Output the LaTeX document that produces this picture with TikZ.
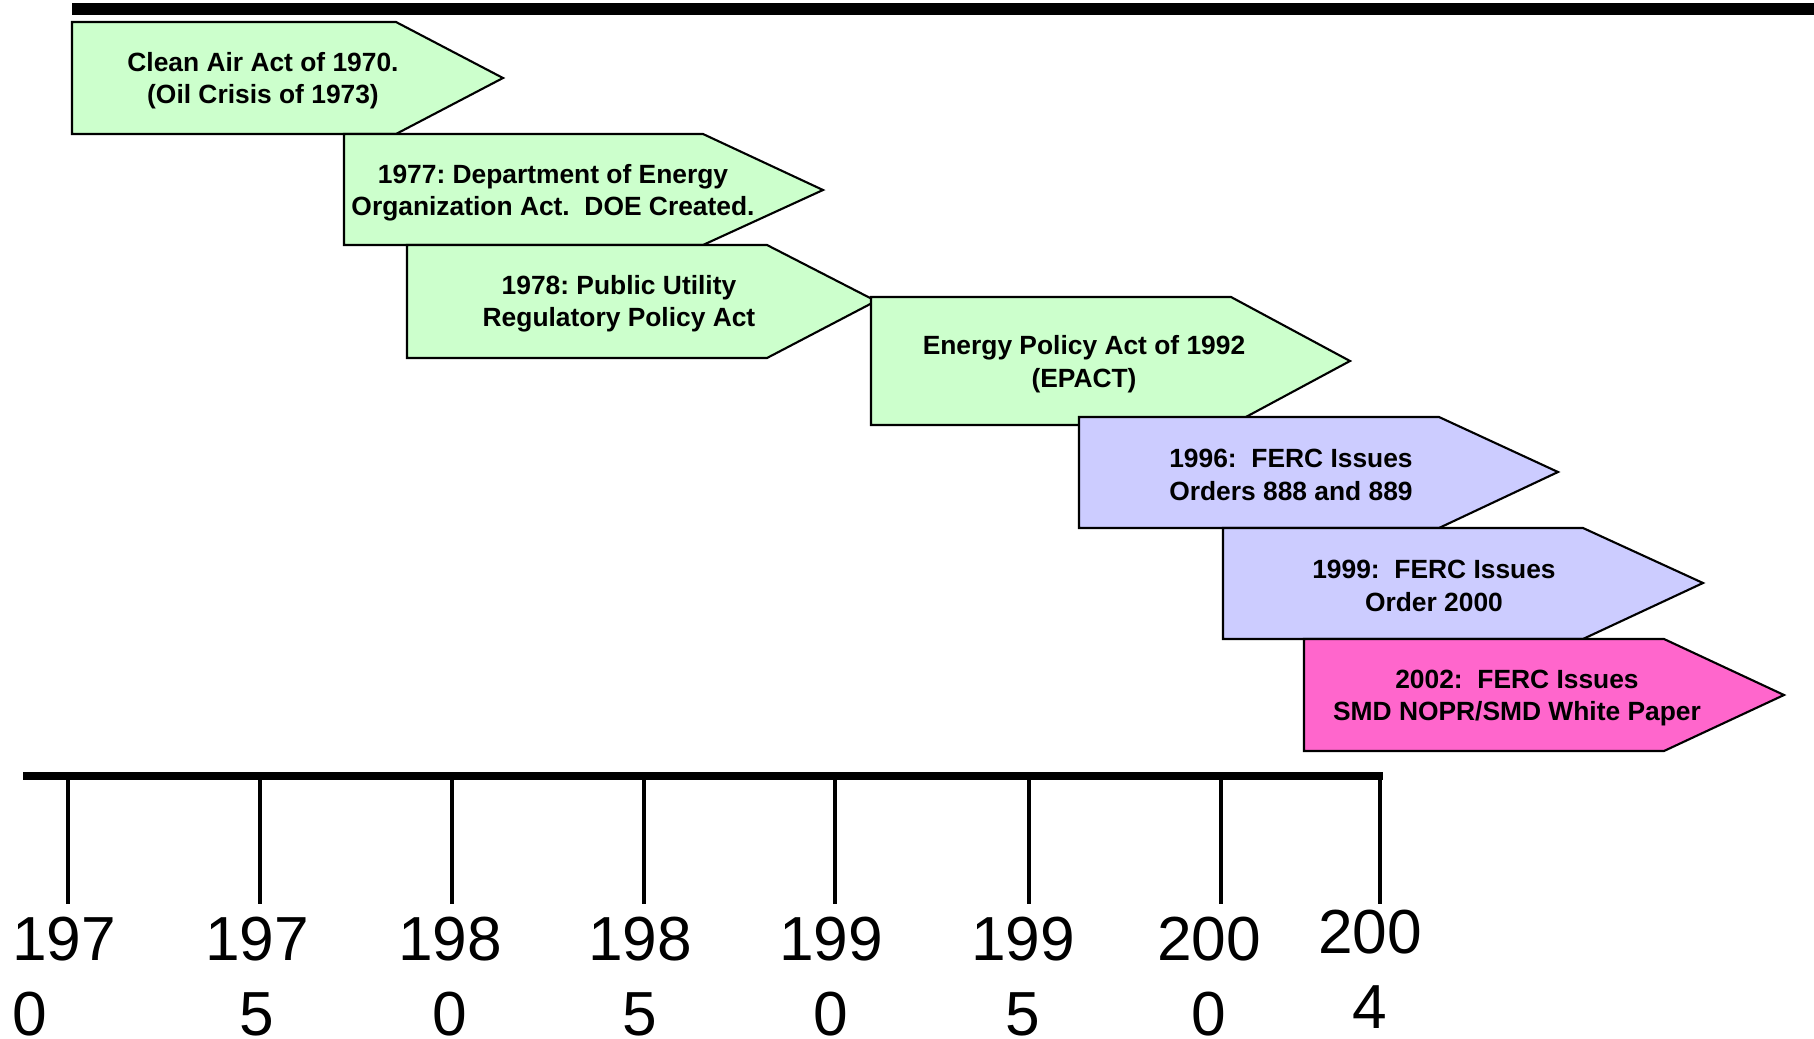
\documentclass[tikz,border=0pt]{standalone}
\usepackage{fontspec}
\setmainfont{Liberation Sans}
\usepackage{tikz}
\usetikzlibrary{positioning}
\definecolor{actgreen}{RGB}{204,255,204}
\definecolor{fercblue}{RGB}{204,204,255}
\definecolor{smdpink}{RGB}{255,102,204}
\frenchspacing

\begin{document}
\begin{tikzpicture}[
  x=0.01cm, y=-0.01cm,
  event/.style={draw=black, line width=0.6pt, line join=miter},
  evtext/.style={font=\fontsize{7.5}{9.2}\selectfont\bfseries, align=center, inner sep=0pt},
  tick/.style={line width=1pt},
  year/.style={font=\fontsize{17.7}{21.3}\selectfont, align=center, inner sep=0pt, anchor=north},
]
  \useasboundingbox (0,0) rectangle (1814,1039);

  % rule along the top
  \draw[line width=3.2pt] (72,9) -- (1814,9);

  % events, oldest first
  \draw[event, fill=actgreen] (72,22) -- (396,22) -- (503,78) -- (396,134) -- (72,134) -- cycle;
  \node[evtext] (cleanair) at (263,81) {Clean Air Act of 1970.\\(Oil Crisis of 1973)};

  \draw[event, fill=actgreen] (344,134) -- (703,134) -- (823,190) -- (703,245) -- (344,245) -- cycle;
  \node[evtext] (doe) at (553,193) {1977: Department of Energy\\Organization Act.\ \ DOE Created.};

  \draw[event, fill=actgreen] (407,245) -- (767,245) -- (876,301) -- (767,358) -- (407,358) -- cycle;
  \node[evtext] (purpa) at (619,304) {1978: Public Utility\\Regulatory Policy Act};

  \draw[event, fill=actgreen] (871,297) -- (1231,297) -- (1350,361) -- (1231,425) -- (871,425) -- cycle;
  \node[evtext] (epact) at (1084,364) {Energy Policy Act of 1992\\(EPACT)};

  \draw[event, fill=fercblue] (1079,417) -- (1439,417) -- (1558,472) -- (1439,528) -- (1079,528) -- cycle;
  \node[evtext] (order888) at (1291,475) {1996:\ \ FERC Issues\\Orders 888 and 889};

  \draw[event, fill=fercblue] (1223,528) -- (1583,528) -- (1703,583) -- (1583,639) -- (1223,639) -- cycle;
  \node[evtext] (order2000) at (1434,586) {1999:\ \ FERC Issues\\Order 2000};

  \draw[event, fill=smdpink] (1304,639) -- (1664,639) -- (1784,695) -- (1664,751) -- (1304,751) -- cycle;
  \node[evtext] (smd) at (1517,698) {2002:\ \ FERC Issues\\SMD NOPR/SMD White Paper};

  % time axis
  \draw[line width=2.3pt] (23,776) -- (1383,776);
  \foreach \x in {68,260,452,644,835,1029,1221,1380}
    \draw[tick] (\x,776) -- (\x,904);

  \node[year, align=left] (yr1970) at (64,916) {197\\0};
  \foreach \x/\hi/\lo in {257/197/5, 450/198/0, 640/198/5, 831/199/0, 1023/199/5, 1209/200/0}
    \node[year] (yr\hi\lo) at (\x,916) {\hi\\\lo};
  \node[year] (yr2004) at (1370,909) {200\\4};
\end{tikzpicture}
\end{document}
